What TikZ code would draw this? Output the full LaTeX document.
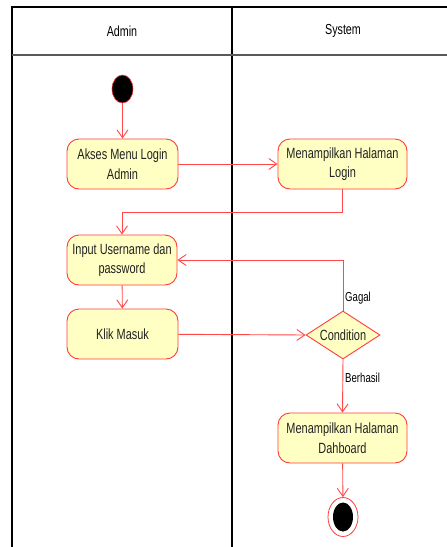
\documentclass[tikz,border=0pt]{standalone}
\usepackage{fontspec}
\setmainfont{Liberation Sans}[FakeStretch=0.74]
\usetikzlibrary{arrows.meta,positioning,shapes.geometric,calc}
\definecolor{cfill}{HTML}{FFFFC4}
\definecolor{cedge}{HTML}{FF3C3C}
\definecolor{cline}{HTML}{FF4848}
\definecolor{chead}{HTML}{5A5A5A}
\definecolor{ctext}{HTML}{222222}
\tikzset{
  act/.style={rectangle, rounded corners=12pt, draw=cedge, fill=cfill, line width=0.9pt,
              align=center, font=\fontsize{14.8}{19.5}\selectfont, text=ctext, inner sep=0pt},
  dec/.style={diamond, draw=cedge, fill=cfill, line width=0.9pt, aspect=1.55,
              font=\fontsize{14.8}{19.5}\selectfont, text=ctext, inner sep=0pt},
  ini/.style={ellipse, draw=cedge, fill=black, line width=0.6pt,
              minimum width=21pt, minimum height=28pt, inner sep=0pt},
  fin/.style={ellipse, draw=cedge, fill=white, line width=0.8pt,
              minimum width=30pt, minimum height=39pt, inner sep=0pt},
  fl/.style={-{Straight Barb[length=8pt,width=11pt,line width=0.9pt]}, draw=cline, line width=0.9pt},
  lane/.style={draw=black, line width=1.3pt},
  hdr/.style={font=\fontsize{14.5}{16}\selectfont},
  gd/.style={font=\fontsize{13}{14}\selectfont, anchor=west, inner sep=1pt}
}
\begin{document}
\begin{tikzpicture}[x=1pt, y=-1pt]
\useasboundingbox (0,0) rectangle (447,547);

% swimlanes
\draw[lane] (447,7) -- (12,7) -- (12,547);
\draw[lane] (232,7) -- (232,547);
\draw[draw=chead, line width=2pt] (12,55) -- (447,55);
\node[hdr] (hAdmin) at (122,31) {Admin};
\node[hdr] (hSys) at (343,31) {System};

% activities
\node[ini] (start) at (122.5,89) {};
\node[act, minimum width=111pt, minimum height=50pt] (akses) at (122.5,164)
 {Akses Menu Login\\Admin};
\node[act, minimum width=129pt, minimum height=50pt] (login) at (342.5,164)
 {Menampilkan Halaman\\Login};
\node[act, minimum width=110pt, minimum height=50pt] (input) at (122,260)
 {Input Username dan\\password};
\node[act, minimum width=111pt, minimum height=50pt] (klik) at (122.5,334)
 {Klik Masuk};
\node[dec, minimum width=74pt, minimum height=48pt] (cond) at (343,335) {Condition};
\node[act, minimum width=129pt, minimum height=50pt] (dash) at (342.5,438)
 {Menampilkan Halaman\\Dahboard};
\node[fin] (stop) at (343,517) {};
\node[ellipse, fill=black, minimum width=20pt, minimum height=29pt, inner sep=0pt] (stopin) at (stop) {};

% flows
\draw[fl] (start) -- (akses);
\draw[fl] (akses) -- (login);
\draw[fl] (login.south) -- ++(0,23) -| (input.north);
\draw[fl] (input) -- (klik);
\draw[fl] (klik) -- (cond.west);
\draw[fl] (cond.north) |- (input.east);
\draw[fl] (cond.south) -- (dash.north);
\draw[fl] (dash) -- (stop);
\node[gd] (lGagal) at ($(cond.north)+(1,-12)$) {Gagal};
\node[gd] (lBerhasil) at ($(cond.south)+(1,18)$) {Berhasil};

\end{tikzpicture}
\end{document}
